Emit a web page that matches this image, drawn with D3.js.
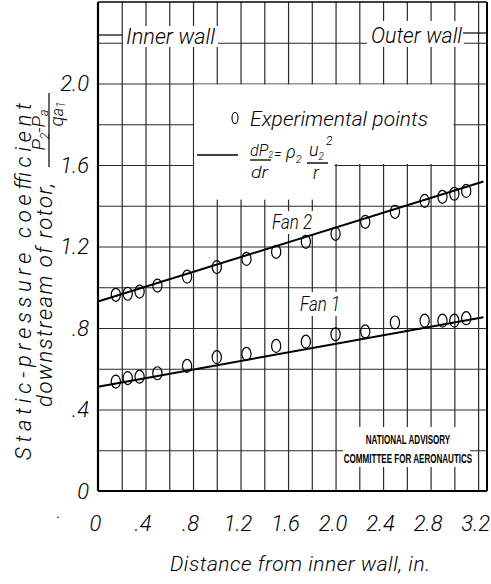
<!DOCTYPE html>
<html><head><meta charset="utf-8">
<script src="https://cdn.jsdelivr.net/npm/d3@7"></script>
<style>body{margin:0;background:#fff}svg{display:block}</style>
</head><body>
<svg id="c" width="491" height="584"></svg>
<script>
// ---- data ----
const distance = [0.15, 0.25, 0.35, 0.5, 0.75, 1.0, 1.25, 1.5, 1.75, 2.0, 2.25, 2.5, 2.75, 2.9, 3.0, 3.1];
const fan1 = [0.537, 0.554, 0.561, 0.578, 0.614, 0.657, 0.673, 0.712, 0.733, 0.769, 0.783, 0.827, 0.836, 0.836, 0.836, 0.848];
const fan2 = [0.963, 0.968, 0.979, 1.008, 1.052, 1.099, 1.139, 1.174, 1.223, 1.262, 1.321, 1.370, 1.424, 1.444, 1.459, 1.473];
const fitX = [0, 3.245];
const fan1Fit = [0.512, 0.853];
const fan2Fit = [0.930, 1.519];
const xTickValues = [0, 0.4, 0.8, 1.2, 1.6, 2.0, 2.4, 2.8, 3.2];
const xTickLabels = ["0", ".4", ".8", "1.2", "1.6", "2.0", "2.4", "2.8", "3.2"];
const yTickValues = [0, 0.4, 0.8, 1.2, 1.6, 2.0];
const yTickLabels = ["0", ".4", ".8", "1.2", "1.6", "2.0"];
const xGrid = d3.range(1, 17).map(i => i * 0.2);
const yGrid = d3.range(1, 12).map(i => i * 0.2);

const FONT = "Roboto,'Liberation Sans',sans-serif";
const W = 300;
const svg = d3.select("#c");
const x = d3.scaleLinear().domain([0, 3.275]).range([98, 487]);
const y = d3.scaleLinear().domain([0, 2.4]).range([491, 2]);
const X0 = x(0), X1 = x(3.275), Y0 = y(0), Y1 = y(2.4);

// ---- grid via axes ----
const gx = svg.append("g").attr("transform", `translate(0,${Y0})`)
  .call(d3.axisBottom(x).tickValues(xGrid).tickSize(-(Y0 - Y1)).tickFormat(""));
gx.select(".domain").remove();
gx.selectAll("line").attr("stroke", "#2a2a2a").attr("stroke-width", 1.2);
const gy = svg.append("g").attr("transform", `translate(${X0},0)`)
  .call(d3.axisLeft(y).tickValues(yGrid).tickSize(-(X1 - X0)).tickFormat(""));
gy.select(".domain").remove();
gy.selectAll("line").attr("stroke", "#2a2a2a").attr("stroke-width", 1.2);

// ---- white label backgrounds that interrupt the grid ----
const white = (x0, y0, x1, y1) => svg.append("rect").attr("x", x0).attr("y", y0)
  .attr("width", x1 - x0).attr("height", y1 - y0).attr("fill", "#fff");
white(123, 26, 218, 47);                          // Inner wall
white(367, 21, 464, 47);                          // Outer wall
white(x(0.8) + 1, y(2.0) + 1, x(3.0) - 1, y(1.6) - 1);   // legend
white(x(0.8) + 1, y(1.6) - 2, x(2.0) - 1, y(1.43));     // legend (formula)
white(268, 211, 316, 234);                        // Fan 2
white(297, 292, 341, 316);                        // Fan 1
white(343, 427, 470, 467);                        // NACA

// ---- frame ----
svg.append("line").attr("x1", X0).attr("x2", X0).attr("y1", Y1).attr("y2", Y0).attr("stroke", "#000").attr("stroke-width", 2.2);
svg.append("line").attr("x1", X0).attr("x2", X1).attr("y1", Y0).attr("y2", Y0).attr("stroke", "#000").attr("stroke-width", 2.2);
svg.append("line").attr("x1", X1).attr("x2", X1).attr("y1", Y1).attr("y2", Y0).attr("stroke", "#000").attr("stroke-width", 2);
svg.append("line").attr("x1", X0).attr("x2", X1).attr("y1", Y1).attr("y2", Y1).attr("stroke", "#000").attr("stroke-width", 1.5);

// ---- tick labels ----
const styleText = sel => sel.attr("font-family", FONT).attr("font-style", "italic")
  .attr("font-weight", W).attr("font-size", 22).attr("fill", "#000");
const ax = svg.append("g").attr("transform", `translate(-3,${Y0})`)
  .call(d3.axisBottom(x).tickValues(xTickValues).tickSize(0).tickPadding(24).tickFormat((d, i) => xTickLabels[i]));
ax.select(".domain").remove();
styleText(ax.selectAll("text"));
const ay = svg.append("g").attr("transform", `translate(${X0},0)`)
  .call(d3.axisLeft(y).tickValues(yTickValues).tickSize(0).tickPadding(9).tickFormat((d, i) => yTickLabels[i]));
ay.select(".domain").remove();
styleText(ay.selectAll("text"));

const txt = (s, px, py, size, len, opts = {}) => {
  const t = svg.append("text").attr("x", px).attr("y", py).attr("font-family", opts.family || FONT)
    .attr("font-style", opts.upright ? "normal" : "italic").attr("font-weight", opts.weight || W)
    .attr("font-size", size).attr("fill", "#000")
    .attr("text-anchor", opts.anchor || "start").text(s);
  if (len) t.attr("textLength", len).attr("lengthAdjust", opts.adjust || "spacingAndGlyphs");
  return t;
};

// axis titles
txt("Distance from inner wall, in.", 170, 571, 21, 260, {adjust: "spacing"});
const rot = (s, cx, cy, size, len) => {
  const t = svg.append("text").attr("transform", `translate(${cx},${cy}) rotate(-90)`)
    .attr("font-family", FONT).attr("font-style", "italic").attr("font-weight", W).attr("font-size", size)
    .attr("text-anchor", "middle").attr("fill", "#000").text(s);
  if (len) t.attr("textLength", len).attr("lengthAdjust", "spacing");
  return t;
};
rot("Static-pressure coefficient", 31, 281.5, 22, 357);
rot("downstream of rotor,", 52, 295, 22, 224);
// fraction (p2 - pa)/qa1
const num = svg.append("text").attr("transform", "translate(45,130) rotate(-90)")
  .attr("font-family", FONT).attr("font-style", "italic").attr("font-weight", W).attr("font-size", 19).attr("text-anchor", "middle");
num.append("tspan").text("P");
num.append("tspan").attr("font-size", 12).attr("dy", 4).text("2");
num.append("tspan").attr("dy", -4).text("-P");
num.append("tspan").attr("font-size", 13).attr("dy", 3).text("a");
svg.append("line").attr("x1", 49).attr("x2", 49).attr("y1", 93).attr("y2", 167).attr("stroke", "#000").attr("stroke-width", 1.2);
const den = svg.append("text").attr("transform", "translate(63,114) rotate(-90)")
  .attr("font-family", FONT).attr("font-style", "italic").attr("font-weight", W).attr("font-size", 19).attr("text-anchor", "middle");
den.append("tspan").text("q");
den.append("tspan").attr("font-size", 16).text("a");
den.append("tspan").attr("font-size", 12).attr("dy", 2).text("1");

// wall labels
txt("Inner wall", 126, 44, 22, 89);
svg.append("line").attr("x1", X0).attr("x2", 122).attr("y1", 35).attr("y2", 35).attr("stroke", "#000").attr("stroke-width", 1.2);
txt("Outer wall", 371, 43, 22, 91);
svg.append("line").attr("x1", 463).attr("x2", X1).attr("y1", 33).attr("y2", 33).attr("stroke", "#000").attr("stroke-width", 1.2);

// legend
svg.append("ellipse").attr("cx", 235).attr("cy", 118).attr("rx", 3).attr("ry", 5.5).attr("fill", "none").attr("stroke", "#000").attr("stroke-width", 1.1);
txt("Experimental points", 250, 126, 21, 178, {adjust: "spacing"});
svg.append("line").attr("x1", 197).attr("x2", 238).attr("y1", 155).attr("y2", 155).attr("stroke", "#000").attr("stroke-width", 1.3);
const dp = txt("dP", 250, 156, 16, null);
dp.append("tspan").attr("font-size", 9).attr("dy", 2).text("2");
dp.append("tspan").attr("font-size", 14).attr("dx", 1).attr("dy", 1).text("=");
svg.append("line").attr("x1", 250).attr("x2", 271).attr("y1", 160).attr("y2", 160).attr("stroke", "#000").attr("stroke-width", 1.3);
txt("dr", 251, 178, 16, 17);
const rho = txt("ρ", 286, 158, 18, null);
rho.append("tspan").attr("font-size", 11).attr("dy", 5).text("2");
const uu = txt("u", 309, 156, 18, null);
uu.append("tspan").attr("font-size", 10).attr("dy", 4).text("2");
uu.append("tspan").attr("font-size", 12).attr("dx", 2).attr("dy", -15).text("2");
svg.append("line").attr("x1", 307).attr("x2", 328).attr("y1", 163).attr("y2", 163).attr("stroke", "#000").attr("stroke-width", 1.4);
txt("r", 313, 179, 18, null);

// fan labels
txt("Fan 2", 272, 229, 20, 40);
txt("Fan 1", 300, 311, 20, 40);

// NACA (condensed lettering)
const naca = (s, cx, py) => svg.append("text").attr("transform", `translate(${cx},${py}) scale(0.62,1)`)
  .attr("font-family", "'Liberation Sans',sans-serif").attr("font-weight", 700).attr("font-size", 13)
  .attr("text-anchor", "middle").attr("fill", "#000").text(s);
naca("NATIONAL ADVISORY", 408, 444);
naca("COMMITTEE FOR AERONAUTICS", 408, 463);
txt(".", 56, 518, 18, null, {upright: true});

// ---- fitted lines ----
const line = d3.line().x(d => x(d[0])).y(d => y(d[1]));
[fan1Fit, fan2Fit].forEach(fit => {
  svg.append("path").datum(fitX.map((v, i) => [v, fit[i]])).attr("d", line)
    .attr("fill", "none").attr("stroke", "#000").attr("stroke-width", 2);
});

// ---- experimental points ----
[fan1, fan2].forEach(series => {
  svg.append("g").selectAll("ellipse").data(series).join("ellipse")
    .attr("cx", (d, i) => x(distance[i])).attr("cy", d => y(d))
    .attr("rx", 4.6).attr("ry", 6.5).attr("fill", "none").attr("stroke", "#000").attr("stroke-width", 1.2);
});
</script>
</body></html>
